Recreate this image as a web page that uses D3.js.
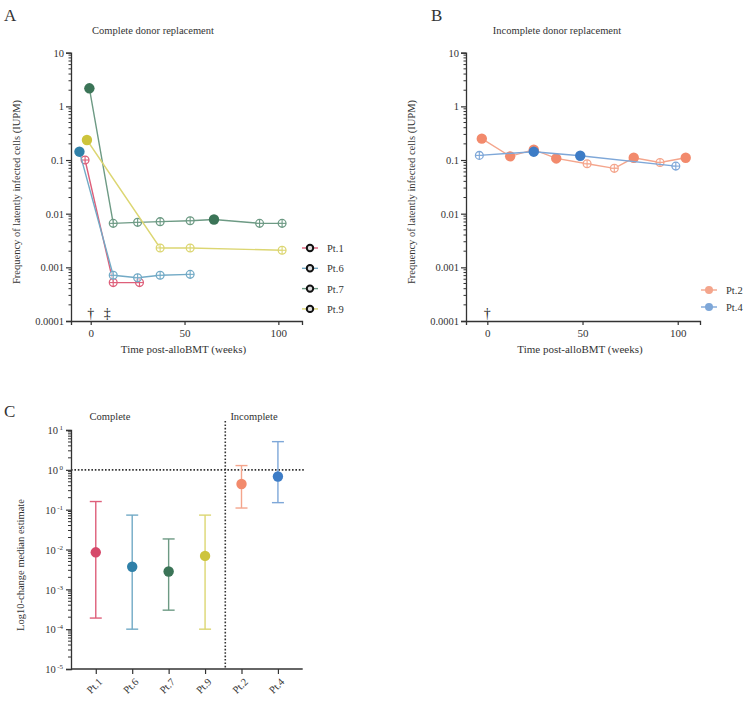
<!DOCTYPE html>
<html><head><meta charset="utf-8">
<script src="https://cdn.jsdelivr.net/npm/d3@7"></script>
<style>
body{margin:0;background:#fff;}
text{font-family:"Liberation Serif","DejaVu Serif",serif;fill:#333;}
</style></head>
<body><svg id="c" width="750" height="704"></svg>
<script>
// ---------- DATA ----------
const yTicksLine = [0.0001, 0.001, 0.01, 0.1, 1, 10];
const yTickLabelsLine = ["0.0001", "0.001", "0.01", "0.1", "1", "10"];
const xTicksLine = [0, 50, 100];

const pt1Weeks = [-3, 12, 26];
const pt1Vals = [0.1, 0.00052, 0.00052];
const pt1Filled = [0, 0, 0];
const pt6Weeks = [-6, 12, 25, 37, 53];
const pt6Vals = [0.143, 0.00071, 0.00064, 0.00071, 0.00074];
const pt6Filled = [1, 0, 0, 0, 0];
const pt7Weeks = [-0.7, 12, 25, 37, 53, 65.7, 90, 102];
const pt7Vals = [2.17, 0.0066, 0.0069, 0.0071, 0.0074, 0.0078, 0.0066, 0.0066];
const pt7Filled = [1, 0, 0, 0, 0, 1, 0, 0];
const pt9Weeks = [-2, 37, 53, 102];
const pt9Vals = [0.236, 0.0023, 0.0023, 0.00208];
const pt9Filled = [1, 0, 0, 0];

const pt2Weeks = [-2.9, 12, 24.4, 36.2, 52.4, 66.7, 76.9, 90.7, 104.2];
const pt2Vals = [0.25, 0.117, 0.156, 0.107, 0.085, 0.070, 0.11, 0.09, 0.11];
const pt2Filled = [1, 1, 1, 1, 0, 0, 1, 0, 1];
const pt4Weeks = [-4.2, 24.4, 48.8, 99];
const pt4Vals = [0.122, 0.143, 0.12, 0.077];
const pt4Filled = [0, 1, 1, 0];

const completeNames = ["Pt.1", "Pt.6", "Pt.7", "Pt.9"];
const incompleteNames = ["Pt.2", "Pt.4"];
const daggersA = [{w: 0, s: "†"}, {w: 8.8, s: "‡"}];
const daggersB = [{w: 0, s: "†"}];

const cCategories = ["Pt.1", "Pt.6", "Pt.7", "Pt.9", "Pt.2", "Pt.4"];
const cMedian = [0.0085, 0.0037, 0.0028, 0.0069, 0.44, 0.68];
const cLower = [0.00019, 0.0001, 0.0003, 0.0001, 0.11, 0.15];
const cUpper = [0.16, 0.073, 0.0184, 0.073, 1.28, 5.1];
const cYTicks = [1e-5, 1e-4, 1e-3, 1e-2, 1e-1, 1, 10];
const cYExponents = ["-5", "-4", "-3", "-2", "-1", "0", "1"];

const colors = {"Pt.1": "#d6496a", "Pt.6": "#2f80a8", "Pt.7": "#3b7457", "Pt.9": "#cdc43c",
                "Pt.2": "#f28a6c", "Pt.4": "#3d7cc6"};
const lightColors = {"Pt.1": "#de5f7a", "Pt.6": "#72aac6", "Pt.7": "#6d9a84", "Pt.9": "#dcd672",
                "Pt.2": "#f4a58c", "Pt.4": "#7ea7d8"};

// ---------- DRAW ----------
const svg = d3.select("#c");
const axisColor = "#333";

function styleAxis(g){
  g.selectAll("path.domain").attr("stroke", axisColor).attr("stroke-width", 1.3);
  g.selectAll(".tick line").attr("stroke", axisColor).attr("stroke-width", 1.2);
  g.selectAll(".tick text").attr("fill", "#333").style("font-family", '"Liberation Serif",serif').style("font-size", "10.5px");
}

function minorTicks(lo, hi){
  const out = [];
  for (let e = Math.log10(lo); e < Math.log10(hi); e++){
    for (let k = 2; k <= 9; k++) out.push(k * Math.pow(10, e));
  }
  return out;
}

function linePanel(opt){
  const x = d3.scaleLinear().domain(opt.xDomain).range(opt.xRange);
  const y = d3.scaleLog().domain([0.0001, 10]).range([321, 52.7]);
  const g = svg.append("g");
  // minor ticks
  g.append("g").selectAll("line").data(minorTicks(0.0001, 10)).join("line")
    .attr("x1", opt.xRange[0] - 2.5).attr("x2", opt.xRange[0]).attr("y1", d => y(d)).attr("y2", d => y(d))
    .attr("stroke", axisColor).attr("stroke-width", 1);
  const ya = g.append("g").attr("transform", `translate(${opt.xRange[0]},0)`)
    .call(d3.axisLeft(y).tickValues(yTicksLine).tickFormat((d, i) => yTickLabelsLine[i]).tickSize(5).tickPadding(2));
  styleAxis(ya);
  const xa = g.append("g").attr("transform", `translate(0,321)`)
    .call(d3.axisBottom(x).tickValues(xTicksLine).tickFormat(d3.format("d")).tickSize(4).tickPadding(4));
  styleAxis(xa);
  xa.selectAll(".tick text").style("font-size", "11px");
  // titles
  g.append("text").attr("x", opt.titleX).attr("y", 34).attr("text-anchor", "middle").style("font-size", "10.5px").text(opt.title);
  g.append("text").attr("x", opt.letterX).attr("y", 21).style("font-size", "17px").text(opt.letter);
  g.append("text").attr("x", (opt.xRange[0] + opt.xRange[1]) / 2 - 3).attr("y", 353).attr("text-anchor", "middle").style("font-size", "11px").text("Time post-alloBMT (weeks)");
  g.append("text").attr("transform", `translate(${opt.xRange[0] - 51},192) rotate(-90)`).attr("text-anchor", "middle").style("font-size", "10.5px").text("Frequency of latently infected cells (IUPM)");
  // daggers
  g.selectAll("text.dag").data(opt.daggers).join("text").attr("class", "dag")
    .attr("x", d => x(d.w)).attr("y", 318).attr("text-anchor", "middle").style("font-size", "14px")
    .style("fill", "#222").text(d => d.s);
  // series
  const line = d3.line().x(d => x(d.w)).y(d => y(d.v));
  opt.series.forEach(s => {
    const pts = s.weeks.map((w, i) => ({w, v: s.vals[i], f: s.filled[i]}));
    g.append("path").datum(pts).attr("d", line).attr("fill", "none")
      .attr("stroke", lightColors[s.name]).attr("stroke-width", 1.4);
    pts.forEach(p => {
      if (p.f) {
        g.append("circle").attr("cx", x(p.w)).attr("cy", y(p.v)).attr("r", 5.2).attr("fill", colors[s.name]);
      } else {
        g.append("circle").attr("cx", x(p.w)).attr("cy", y(p.v)).attr("r", 3.9).attr("fill", "white")
          .attr("fill-opacity", 0.6).attr("stroke", lightColors[s.name]).attr("stroke-width", 1.3);
        g.append("line").attr("x1", x(p.w)).attr("x2", x(p.w)).attr("y1", y(p.v) - 3.9).attr("y2", y(p.v) + 3.9)
          .attr("stroke", lightColors[s.name]).attr("stroke-width", 1.1);
        g.append("line").attr("x1", x(p.w) - 3.9).attr("x2", x(p.w) + 3.9).attr("y1", y(p.v)).attr("y2", y(p.v))
          .attr("stroke", lightColors[s.name]).attr("stroke-width", 1.1);
      }
    });
  });
  // legend
  opt.series.forEach((s, i) => {
    const ly = opt.legendY + i * opt.legendStep;
    const lg = g.append("g");
    lg.append("line").attr("x1", opt.legendX - 8).attr("x2", opt.legendX + 8).attr("y1", ly).attr("y2", ly)
      .attr("stroke", lightColors[s.name]).attr("stroke-width", 1.4);
    if (opt.legendDark) {
      lg.append("circle").attr("cx", opt.legendX).attr("cy", ly).attr("r", 3.2).attr("fill", "#ddd").attr("stroke", "#111").attr("stroke-width", 2);
    } else {
      lg.append("circle").attr("cx", opt.legendX).attr("cy", ly).attr("r", 4).attr("fill", lightColors[s.name]);
    }
    lg.append("text").attr("x", opt.legendX + 17).attr("y", ly + 4).style("font-size", "10.5px").text(s.name);
  });
}

linePanel({
  xDomain: [-10.5, 112.6], xRange: [71, 302], title: "Complete donor replacement", titleX: 153,
  letter: "A", letterX: 4, daggers: daggersA, legendX: 310, legendY: 248, legendStep: 20.3, legendDark: true,
  series: [
    {name: "Pt.1", weeks: pt1Weeks, vals: pt1Vals, filled: pt1Filled},
    {name: "Pt.6", weeks: pt6Weeks, vals: pt6Vals, filled: pt6Filled},
    {name: "Pt.7", weeks: pt7Weeks, vals: pt7Vals, filled: pt7Filled},
    {name: "Pt.9", weeks: pt9Weeks, vals: pt9Vals, filled: pt9Filled}
  ]
});
linePanel({
  xDomain: [-11.2, 111.7], xRange: [466, 700], title: "Incomplete donor replacement", titleX: 557,
  letter: "B", letterX: 431, daggers: daggersB, legendX: 709, legendY: 290, legendStep: 17, legendDark: false,
  series: [
    {name: "Pt.2", weeks: pt2Weeks, vals: pt2Vals, filled: pt2Filled},
    {name: "Pt.4", weeks: pt4Weeks, vals: pt4Vals, filled: pt4Filled}
  ]
});

// ---------- PANEL C ----------
(function(){
  const x = d3.scalePoint().domain(cCategories).range([71, 302.7]).padding(0.68);
  const y = d3.scaleLog().domain([1e-5, 10]).range([669, 430]);
  const g = svg.append("g");
  g.append("text").attr("x", 4).attr("y", 417).style("font-size", "17px").text("C");
  g.append("text").attr("x", 110).attr("y", 420).attr("text-anchor", "middle").style("font-size", "10.5px").text("Complete");
  g.append("text").attr("x", 254).attr("y", 420).attr("text-anchor", "middle").style("font-size", "10.5px").text("Incomplete");
  g.append("text").attr("transform", `translate(24,565) rotate(-90)`).attr("text-anchor", "middle").style("font-size", "10.5px").text("Log10-change median estimate");
  // minor ticks
  g.append("g").selectAll("line").data(minorTicks(1e-5, 10)).join("line")
    .attr("x1", 71 - 3).attr("x2", 71).attr("y1", d => y(d)).attr("y2", d => y(d))
    .attr("stroke", axisColor).attr("stroke-width", 1);
  const ya = g.append("g").attr("transform", "translate(71,0)")
    .call(d3.axisLeft(y).tickValues(cYTicks).tickFormat("").tickSize(5));
  styleAxis(ya);
  ya.selectAll(".tick").append("text").attr("x", -8).attr("dy", "0.35em").attr("text-anchor", "end")
    .style("font-size", "10.5px").attr("fill", "#333")
    .each(function(d, i){
      const t = d3.select(this);
      t.append("tspan").text("10");
      t.append("tspan").attr("dx", 1.5).attr("dy", -4).style("font-size", "7px").text(cYExponents[i]);
    });
  const xa = g.append("g").attr("transform", "translate(0,669)")
    .call(d3.axisBottom(x).tickSize(5).tickSizeOuter(0));
  styleAxis(xa);
  xa.select("path.domain").attr("d", "M71,0H302.7");
  xa.selectAll(".tick text").attr("text-anchor", "end").attr("x", 0).attr("y", 0).attr("dy", "0.35em")
    .attr("transform", "translate(4,11) rotate(-45)").style("font-size", "10.5px");
  // dotted reference lines
  const sep = (x("Pt.9") + x("Pt.2")) / 2 + 2;
  g.append("line").attr("x1", sep).attr("x2", sep).attr("y1", 421).attr("y2", 669)
    .attr("stroke", "#333").attr("stroke-width", 1.6).attr("stroke-dasharray", "1.6,1.8");
  g.append("line").attr("x1", 71).attr("x2", 304).attr("y1", y(1)).attr("y2", y(1))
    .attr("stroke", "#333").attr("stroke-width", 1.6).attr("stroke-dasharray", "1.6,1.8");
  // error bars + points
  cCategories.forEach((c, i) => {
    const cx = x(c), col = lightColors[c];
    g.append("line").attr("x1", cx).attr("x2", cx).attr("y1", y(cLower[i])).attr("y2", y(cUpper[i])).attr("stroke", col).attr("stroke-width", 1.4);
    [cLower[i], cUpper[i]].forEach(v => {
      g.append("line").attr("x1", cx - 6).attr("x2", cx + 6).attr("y1", y(v)).attr("y2", y(v)).attr("stroke", col).attr("stroke-width", 1.4);
    });
    g.append("circle").attr("cx", cx).attr("cy", y(cMedian[i])).attr("r", 5.2).attr("fill", colors[c]);
  });
})();
</script></body></html>
